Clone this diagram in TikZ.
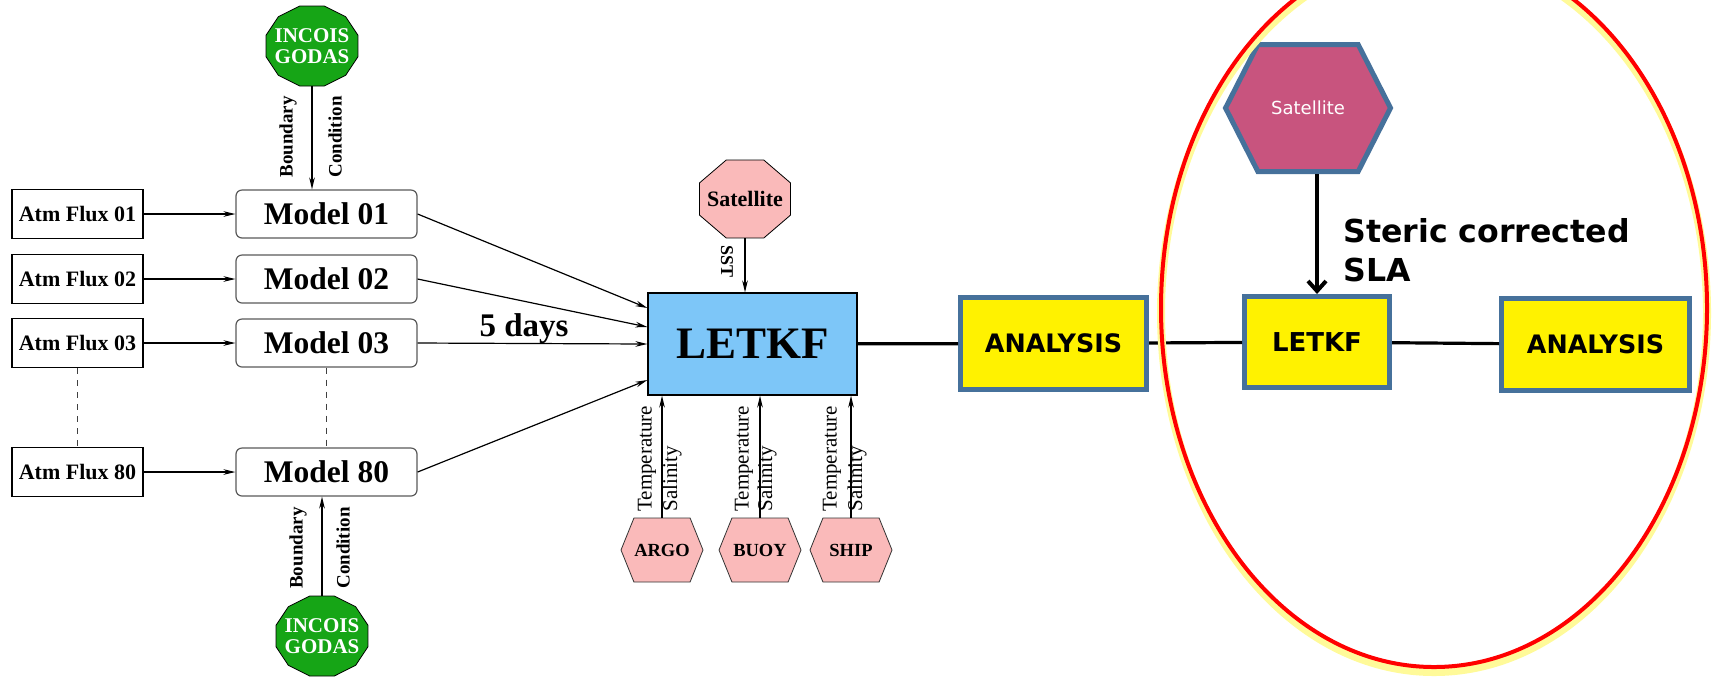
\documentclass[tikz,border=0pt]{standalone}
\usepackage{fontspec}
\setmainfont{Liberation Serif}
\newfontfamily\dvsans{DejaVu Sans}
\usetikzlibrary{shapes.geometric,shapes.symbols,arrows.meta}

\definecolor{incoisgreen}{RGB}{22,165,22}
\definecolor{obspink}{RGB}{250,186,186}
\definecolor{letkfblue}{RGB}{125,198,248}
\definecolor{frameblue}{RGB}{70,113,155}
\definecolor{satpink}{RGB}{200,84,126}

\tikzset{
  flux/.style={draw, line width=0.6pt, minimum width=65.5pt, minimum height=24.5pt, inner sep=0pt, font=\fontsize{11}{13}\selectfont\bfseries},
  model/.style={draw=black!65, line width=0.6pt, rounded corners=3pt, minimum width=90.5pt, minimum height=24pt, inner sep=0pt, font=\fontsize{15.75}{18}\selectfont\bfseries},
  godas/.style={regular polygon, regular polygon sides=12, draw, fill=incoisgreen, minimum size=47.6pt, inner sep=0pt, yscale=0.87},
  godastext/.style={text=white, align=center, inner sep=0pt, font=\fontsize{10.5}{10.5}\selectfont\bfseries},
  obs/.style={signal, signal to=west and east, signal pointer angle=136, draw=black!80, fill=obspink, minimum width=41pt, minimum height=32pt, inner sep=0pt, font=\fontsize{9.25}{11}\selectfont\bfseries},
  feed/.style={-{Stealth[length=6pt,width=2.8pt]}, line width=0.6pt},
  side/.style={rotate=90, inner sep=0pt, font=\fontsize{9.5}{11}\selectfont\bfseries},
  tslab/.style={rotate=90, anchor=west, inner sep=0pt, font=\fontsize{10.5}{12}\selectfont},
  ybox/.style={draw=frameblue, line width=2.5pt, fill=yellow, inner sep=0pt, font=\dvsans\bfseries\fontsize{12.7}{15}\selectfont},
  link/.style={line width=1.6pt},
}

\begin{document}
\begin{tikzpicture}[x=0.5pt, y=-0.5pt]
\useasboundingbox (0,0) rectangle (1716,677);

% ensemble members
\foreach \n/\yy in {01/214, 02/279, 03/343, 80/472}{
  \node[flux] (atm\n) at (77.5,\yy) {Atm Flux \n};
  \node[model] (m\n) at (326.5,\yy) {Model \n};
  \draw[feed] (atm\n) -- (m\n);
}
\draw[dashed, black!75] (atm03) -- (atm80);
\draw[dashed, black!75] (m03) -- (m80);

\node[godas, label={[godastext]center:INCOIS\\GODAS}] (bctop) at (312,46) {};
\draw[feed] (bctop.south) -- (bctop.south |- m01.north);
\node[side] (bctopa) at (288,137) {Boundary};
\node[side] (bctopb) at (335,137) {Condition};

\node[godas, label={[godastext]center:INCOIS\\GODAS}] (bcbot) at (322,636) {};
\draw[feed] (bcbot.north) -- (bcbot.north |- m80.south);
\node[side] (bcbota) at (298,548) {Boundary};
\node[side] (bcbotb) at (343,548) {Condition};

\node[draw, line width=0.6pt, fill=letkfblue, minimum width=104.5pt, minimum height=51pt, inner sep=0pt, font=\fontsize{22.5}{26}\selectfont\bfseries] (letkf) at (752.5,344) {LETKF};
\draw[feed] (m01.east) -- ([yshift=18pt]letkf.west);
\draw[feed] (m02.east) -- ([yshift=8.5pt]letkf.west);
\draw[feed] (m03.east) -- (letkf.west);
\draw[feed] (m80.east) -- ([yshift=-18pt]letkf.west);
\node[font=\fontsize{16.5}{19}\selectfont\bfseries] (days) at (524,329) {5 days};

\node[regular polygon, regular polygon sides=8, draw, fill=obspink, minimum size=49.2pt, inner sep=0pt, yscale=0.857,
  label={[inner sep=0pt, font=\fontsize{11}{13}\selectfont\bfseries]center:Satellite}] (sst) at (745,199) {};
\draw[feed] (sst.south) -- (sst.south |- letkf.north);
\node[rotate=-90, inner sep=0pt, font=\fontsize{9}{11}\selectfont\bfseries] (sstlab) at (727,261) {SST};

\foreach \o/\xx/\tx/\sx in {ARGO/662/647/672, BUOY/760/744/767, SHIP/851/832/857}{
  \node[obs] (\o) at (\xx,550) {\o};
  \draw[feed] (\o.north) -- (\o.north |- letkf.south);
  \node[tslab] (\o t) at (\tx,512) {Temperature};
  \node[tslab] (\o s) at (\sx,512) {Salinity};
}

% altimetry step
\node[ybox, minimum width=93pt, minimum height=46pt] (ana1) at (1053.5,343.5) {ANALYSIS};
\node[ybox, minimum width=72.5pt, minimum height=45.5pt, font=\dvsans\bfseries\fontsize{13}{15}\selectfont] (letkf2) at (1317,342) {LETKF};
\node[ybox, minimum width=94pt, minimum height=46pt] (ana2) at (1595.5,344.5) {ANALYSIS};
\draw[link] (letkf) -- (ana1);
\draw[link] (ana1) -- (letkf2);
\draw[link] (letkf2) -- (ana2);

\node[signal, signal to=west and east, signal pointer angle=126, draw=frameblue, line width=2.5pt, fill=satpink, minimum width=82.5pt, minimum height=63.5pt, inner sep=0pt, text=white, font=\dvsans\fontsize{9}{11}\selectfont] (sat) at (1308,108) {Satellite};
\draw[line width=2pt, -{Straight Barb[length=5pt,width=9pt]}] (sat.south -| letkf2.north) -- (letkf2.north);
\node[anchor=north west, inner sep=0pt, align=left, font=\dvsans\bfseries\fontsize{15.8}{19.5}\selectfont] (steric) at (1343,218) {Steric corrected\\SLA};

\draw[yellow!40, line width=4pt] (1434,313) ellipse [x radius=136.5pt, y radius=179.5pt];
\draw[red, line width=2pt] (1434,308) ellipse [x radius=136.5pt, y radius=179.5pt];
\end{tikzpicture}
\end{document}
